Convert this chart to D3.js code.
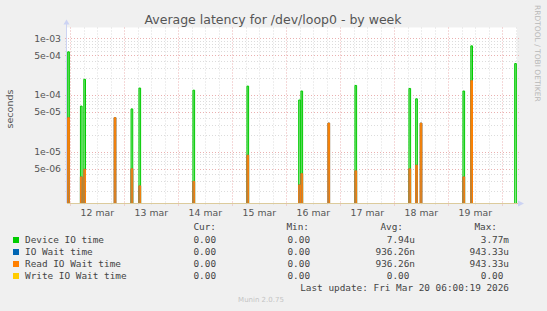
<!DOCTYPE html>
<html>
<head>
<meta charset="utf-8">
<script src="https://cdn.jsdelivr.net/npm/d3@7"></script>
<style>
  body { margin: 0; background: #f0f0f0; }
  svg { display: block; }
</style>
</head>
<body>
<svg width="547" height="311"></svg>
<script>
  // spikes of the week graph (time as "day hour:min", value in seconds)
  var deviceTimes = ["11 22:50", "12 04:30", "12 06:00", "13 03:00", "13 06:30", "14 06:30", "15 06:30",
                     "16 05:30", "16 06:30", "17 06:30", "18 06:30", "18 09:30", "19 06:30", "19 10:00", "20 05:30"];
  var deviceValues = [5.8e-4, 6.4e-5, 1.9e-4, 5.7e-5, 1.33e-4, 1.22e-4, 1.44e-4,
                      8.2e-5, 1.18e-4, 1.48e-4, 1.31e-4, 8.6e-5, 1.18e-4, 7.4e-4, 3.6e-4];

  var readTimes = ["11 22:50", "12 04:30", "12 06:00", "12 19:30", "13 03:00", "13 06:30", "14 06:30", "15 06:30",
                   "16 05:30", "16 06:30", "16 18:30", "17 06:30", "18 06:30", "18 09:30", "18 11:30", "19 06:30", "19 10:00"];
  var readValues = [4.0e-5, 3.6e-6, 4.9e-6, 4.0e-5, 5.0e-6, 2.5e-6, 3.0e-6, 8.7e-6,
                    2.6e-6, 4.1e-6, 3.2e-5, 4.6e-6, 5.0e-6, 5.8e-6, 3.2e-5, 3.6e-6, 1.8e-4];

  // IO wait equals read IO wait, write IO wait stays at zero
  var waitTimes = readTimes;
  var waitValues = readValues;

  var yTickValues = [1e-3, 5e-4, 1e-4, 5e-5, 1e-5, 5e-6];
  var yTickLabels = ["1e-03", "5e-04", "1e-04", "5e-05", "1e-05", "5e-06"];

  var legendNames = ["Device IO time", "IO Wait time", "Read IO Wait time", "Write IO Wait time"];
  var legendColors = ["#00cc00", "#0066b3", "#ff8000", "#ffcc00"];
  var curValues = ["0.00", "0.00", "0.00", "0.00"];
  var minValues = ["0.00", "0.00", "0.00", "0.00"];
  var avgValues = ["7.94u", "936.26n", "936.26n", "0.00"];
  var maxValues = ["3.77m", "943.33u", "943.33u", "0.00"];

  var parseT = d3.utcParse("%Y-%m-%d %H:%M");
  function toDate(s) { return parseT("2026-03-" + s); }

  var svg = d3.select("svg");
  var pLeft = 67, pRight = 517, pTop = 27.5, pBottom = 203;

  var x = d3.scaleUtc()
      .domain([toDate("11 22:32"), toDate("20 06:32")])
      .range([pLeft, pRight]);

  var y = d3.scaleLog()
      .domain([1.245e-6, 1.56e-3])
      .range([pBottom, pTop]);

  // plot background
  svg.append("rect")
      .attr("x", pLeft).attr("y", pTop)
      .attr("width", pRight - pLeft).attr("height", pBottom - pTop)
      .attr("fill", "#fff");

  var grid = svg.append("g");

  // horizontal grid: minor at 2..9, major at 1 and 5
  d3.range(-6, -2).forEach(function(e) {
    d3.range(1, 10).forEach(function(k) {
      var v = k * Math.pow(10, e);
      var yy = Math.round(y(v)) + 0.5;
      if (yy < pTop || yy > pBottom) return;
      var major = (k === 1 || k === 5);
      grid.append("line")
          .attr("x1", pLeft - 2).attr("x2", pRight + 2)
          .attr("y1", yy).attr("y2", yy)
          .attr("stroke", major ? "#eab0b0" : "#dcdcdc")
          .attr("stroke-dasharray", "1,2");
    });
  });

  // vertical grid: every 6 hours, red at midnight
  x.ticks(d3.utcHour.every(6)).forEach(function(d) {
    var xx = Math.round(x(d)) + 0.5;
    var major = d.getUTCHours() === 0;
    grid.append("line")
        .attr("x1", xx).attr("x2", xx)
        .attr("y1", pTop).attr("y2", pBottom + (major ? 3 : 2))
        .attr("stroke", major ? "#eab0b0" : "#dcdcdc")
        .attr("stroke-dasharray", "1,2");
  });

  // gradients for the spikes
  var defs = svg.append("defs");
  defs.append("clipPath").attr("id", "plot")
    .append("rect")
      .attr("x", pLeft).attr("y", pTop)
      .attr("width", pRight - pLeft).attr("height", pBottom - pTop);

  function gradient(id, stops) {
    var g = defs.append("linearGradient")
        .attr("id", id)
        .attr("gradientUnits", "userSpaceOnUse")
        .attr("x1", 0).attr("x2", 0)
        .attr("y1", pTop).attr("y2", pBottom);
    stops.forEach(function(s) {
      g.append("stop").attr("offset", s[0]).attr("stop-color", s[1]);
    });
  }
  gradient("gGreen", [[0, "#66da66"], [0.6, "#86e286"], [1, "#c0eec0"]]);
  gradient("gBlue", [[0, "#3a7fc0"], [1, "#6e8aa0"]]);
  gradient("gOrange", [[0, "#ff8000"], [0.7, "#f0850f"], [1, "#8c7f6a"]]);

  var spikeWidth = 45 * 60 * 1000;
  var floorValue = 1e-7;

  var line = d3.line()
      .x(function(d) { return x(d[0]); })
      .y(function(d) { return y(d[1]); })
      .curve(d3.curveStepAfter);

  var plot = svg.append("g").attr("clip-path", "url(#plot)");

  function drawSeries(times, values, color, fillId) {
    times.forEach(function(t, i) {
      var d0 = toDate(t);
      var d1 = new Date(d0.getTime() + spikeWidth);
      var pts = [[d0, floorValue], [d0, values[i]], [d1, values[i]], [d1, floorValue]];
      plot.append("path")
          .attr("d", line(pts) + "Z")
          .attr("fill", "url(#" + fillId + ")")
          .attr("stroke", "none");
      plot.append("path")
          .attr("d", line(pts))
          .attr("fill", "none")
          .attr("stroke", color)
          .attr("stroke-width", 1);
    });
  }

  drawSeries(deviceTimes, deviceValues, legendColors[0], "gGreen");
  drawSeries(waitTimes, waitValues, legendColors[1], "gBlue");
  drawSeries(readTimes, readValues, legendColors[2], "gOrange");

  // axes
  svg.append("line")
      .attr("x1", pLeft).attr("x2", pRight + 1)
      .attr("y1", pBottom + 0.5).attr("y2", pBottom + 0.5)
      .attr("stroke", "#dccb9c");
  svg.append("line")
      .attr("x1", pLeft - 0.5).attr("x2", pLeft - 0.5)
      .attr("y1", pBottom).attr("y2", pTop - 5)
      .attr("stroke", "#ccd3f3");
  svg.append("path")
      .attr("d", "M" + (pLeft - 3.5) + "," + (pTop - 3) + "L" + (pLeft - 0.5) + "," + (pTop - 8) + "L" + (pLeft + 2.5) + "," + (pTop - 3) + "Z")
      .attr("fill", "#ccd3f3");
  svg.append("path")
      .attr("d", "M" + (pRight + 1) + "," + (pBottom - 2.5) + "L" + (pRight + 7) + "," + (pBottom + 0.5) + "L" + (pRight + 1) + "," + (pBottom + 3.5) + "Z")
      .attr("fill", "#ccd3f3");

  // y tick labels
  svg.selectAll(".ylab")
    .data(yTickValues)
    .enter().append("text")
      .attr("class", "ylab")
      .attr("x", 61)
      .attr("y", function(d) { return y(d); })
      .attr("dy", "0.35em")
      .attr("text-anchor", "end")
      .attr("font-family", "DejaVu Sans")
      .attr("font-size", 9.3)
      .attr("fill", "#555")
      .text(function(d, i) { return yTickLabels[i]; });

  // x labels at noon
  var noons = d3.utcDay.range(toDate("12 00:00"), toDate("20 00:00")).map(function(d) {
    return d3.utcHour.offset(d, 12);
  });
  svg.selectAll(".xlab")
    .data(noons)
    .enter().append("text")
      .attr("class", "xlab")
      .attr("x", function(d) { return x(d); })
      .attr("y", 216)
      .attr("text-anchor", "middle")
      .attr("font-family", "DejaVu Sans")
      .attr("font-size", 9.3)
      .attr("fill", "#555")
      .text(function(d) { return d.getUTCDate() + " mar"; });

  // title and side texts
  svg.append("text")
      .attr("x", 273).attr("y", 24)
      .attr("text-anchor", "middle")
      .attr("font-family", "DejaVu Sans")
      .attr("font-size", 12.5)
      .attr("fill", "#555")
      .text("Average latency for /dev/loop0 - by week");

  svg.append("text")
      .attr("transform", "translate(13,109) rotate(-90)")
      .attr("text-anchor", "middle")
      .attr("font-family", "DejaVu Sans")
      .attr("font-size", 9.5)
      .attr("fill", "#555")
      .text("seconds");

  svg.append("text")
      .attr("transform", "translate(535,5) rotate(90)")
      .attr("font-family", "DejaVu Sans")
      .attr("font-size", 7.5)
      .attr("fill", "#b8b8b8")
      .text("RRDTOOL / TOBI OETIKER");

  // legend
  var mono = "DejaVu Sans Mono", fs = 9.4, cw = 5.66;
  var legend = svg.append("g")
      .attr("font-family", mono)
      .attr("font-size", fs)
      .attr("fill", "#444");

  var cols = [216, 309, 403, 497];
  ["Cur:", "Min:", "Avg:", "Max:"].forEach(function(h, i) {
    legend.append("text")
        .attr("x", cols[i]).attr("y", 227).attr("dy", "0.35em")
        .attr("text-anchor", "end")
        .text(h);
  });

  var valueCols = [[curValues, 221.7], [minValues, 315.7], [avgValues, 415], [maxValues, 509]];
  legendNames.forEach(function(name, i) {
    var yy = 240 + i * 12;
    legend.append("rect")
        .attr("x", 13).attr("y", yy - 3)
        .attr("width", 6).attr("height", 6)
        .attr("fill", legendColors[i]);
    legend.append("text")
        .attr("x", 25).attr("y", yy).attr("dy", "0.35em")
        .text(name);
    valueCols.forEach(function(c) {
      var s = c[0][i];
      var hasUnit = /[a-z]$/.test(s);
      legend.append("text")
          .attr("x", hasUnit ? c[1] : c[1] - cw)
          .attr("y", yy).attr("dy", "0.35em")
          .attr("text-anchor", "end")
          .text(s);
    });
  });

  legend.append("text")
      .attr("x", 509).attr("y", 288).attr("dy", "0.35em")
      .attr("text-anchor", "end")
      .text("Last update: Fri Mar 20 06:00:19 2026");

  svg.append("text")
      .attr("x", 261).attr("y", 300).attr("dy", "0.35em")
      .attr("text-anchor", "middle")
      .attr("font-family", "DejaVu Sans")
      .attr("font-size", 7)
      .attr("fill", "#c4c4c4")
      .text("Munin 2.0.75");
</script>
</body>
</html>
